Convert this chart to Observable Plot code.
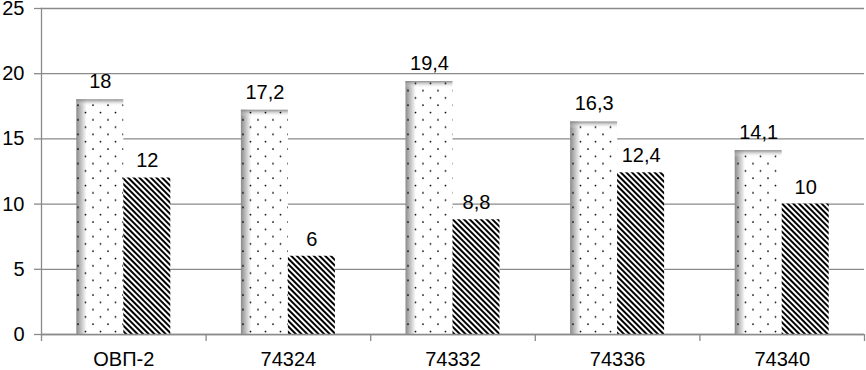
<!DOCTYPE html>
<html><head><meta charset="utf-8">
<script src="https://cdn.jsdelivr.net/npm/d3@7"></script>
<script src="https://cdn.jsdelivr.net/npm/@observablehq/plot@0.6"></script>
<style>body{margin:0;background:#fff} svg{display:block}</style>
</head><body><div id="chart"></div>
<script>
const categories = ["ОВП-2", "74324", "74332", "74336", "74340"];
const seriesA = [18, 17.2, 19.4, 16.3, 14.1];
const seriesB = [12, 6, 8.8, 12.4, 10];
const yTicks = [0, 5, 10, 15, 20, 25];

const data = categories.map((c, i) => ({cat: c, a: seriesA[i], b: seriesB[i]}));
const fmt = v => String(v).replace(".", ",");
const grid = "#8a8a8a";
const W = 866, ML = 41, MR = 2;
const half = (W - ML - MR) / categories.length / 2;
const barW = 47;

const plot = Plot.plot({
  width: W, height: 370,
  marginLeft: ML, marginRight: MR, marginTop: 8, marginBottom: 36,
  style: {fontFamily: "'Liberation Sans', Arial, sans-serif", fontSize: "20px", color: "#000", background: "#fff"},
  x: {domain: categories, padding: 0, round: false, label: null},
  y: {domain: [0, 25], label: null},
  marks: [
    Plot.gridY(yTicks, {stroke: grid, strokeOpacity: 1, strokeWidth: 1.3}),
    Plot.axisY(yTicks, {tickSize: 7, tickPadding: 10, stroke: grid, strokeWidth: 1.3, fill: "#000", fontSize: 20, label: null}),
    Plot.frame({anchor: "left", stroke: grid, strokeWidth: 1.3}),
    // series A: base with left shading, top bevel, dots
    Plot.barY(data, {x: "cat", y: "a", insetLeft: half - barW, insetRight: half, fill: "url(#gH)"}),
    Plot.barY(data, {x: "cat", y1: "a", y2: "a", insetBottom: -7, insetLeft: half - barW, insetRight: half, fill: "url(#gV)"}),
    Plot.barY(data, {x: "cat", y: "a", insetLeft: half - barW, insetRight: half, fill: "url(#dots)"}),
    // series B: stripes
    Plot.barY(data, {x: "cat", y: "b", insetLeft: half, insetRight: half - barW, fill: "url(#stripes)"}),
    Plot.ruleY([0], {stroke: grid, strokeWidth: 1.3}),
    Plot.axisX({tickSize: 0, tickPadding: 17, fill: "#000", fontSize: 20, label: null}),
    Plot.axisX({tickSize: 7, tickFormat: () => "", dx: -half, stroke: grid, strokeWidth: 1.3, label: null}),
    Plot.axisX([categories[categories.length - 1]], {tickSize: 7, tickFormat: () => "", dx: half, stroke: grid, strokeWidth: 1.3, label: null}),
    Plot.text(data, {x: "cat", y: "a", text: d => fmt(d.a), dx: -barW / 2, dy: -18, fill: "#000", fontSize: 20}),
    Plot.text(data, {x: "cat", y: "b", text: d => fmt(d.b), dx: barW / 2, dy: -17, fill: "#000", fontSize: 20})
  ]
});

const svg = d3.select(plot);
const defs = svg.insert("defs", ":first-child");
const gH = defs.append("linearGradient").attr("id", "gH").attr("x1", 0).attr("x2", 1).attr("y1", 0).attr("y2", 0);
gH.append("stop").attr("offset", 0).attr("stop-color", "#8a8a8a");
gH.append("stop").attr("offset", 0.22).attr("stop-color", "#ffffff");
gH.append("stop").attr("offset", 1).attr("stop-color", "#ffffff");
const gV = defs.append("linearGradient").attr("id", "gV").attr("x1", 0).attr("x2", 0).attr("y1", 0).attr("y2", 1);
gV.append("stop").attr("offset", 0).attr("stop-color", "#808080").attr("stop-opacity", 0.9);
gV.append("stop").attr("offset", 1).attr("stop-color", "#ffffff").attr("stop-opacity", 0);
const dots = defs.append("pattern").attr("id", "dots").attr("patternUnits", "userSpaceOnUse").attr("width", 15).attr("height", 14.6);
dots.append("circle").attr("cx", 3).attr("cy", 3).attr("r", 0.9).attr("fill", "#000");
dots.append("circle").attr("cx", 10.5).attr("cy", 10.3).attr("r", 0.9).attr("fill", "#000");
const st = defs.append("pattern").attr("id", "stripes").attr("patternUnits", "userSpaceOnUse").attr("width", 4).attr("height", 4).attr("patternTransform", "rotate(-45)");
st.append("rect").attr("width", 4).attr("height", 4).attr("fill", "#fff");
st.append("rect").attr("width", 2).attr("height", 4).attr("fill", "#000");

document.getElementById("chart").appendChild(plot);
</script>
</body></html>
